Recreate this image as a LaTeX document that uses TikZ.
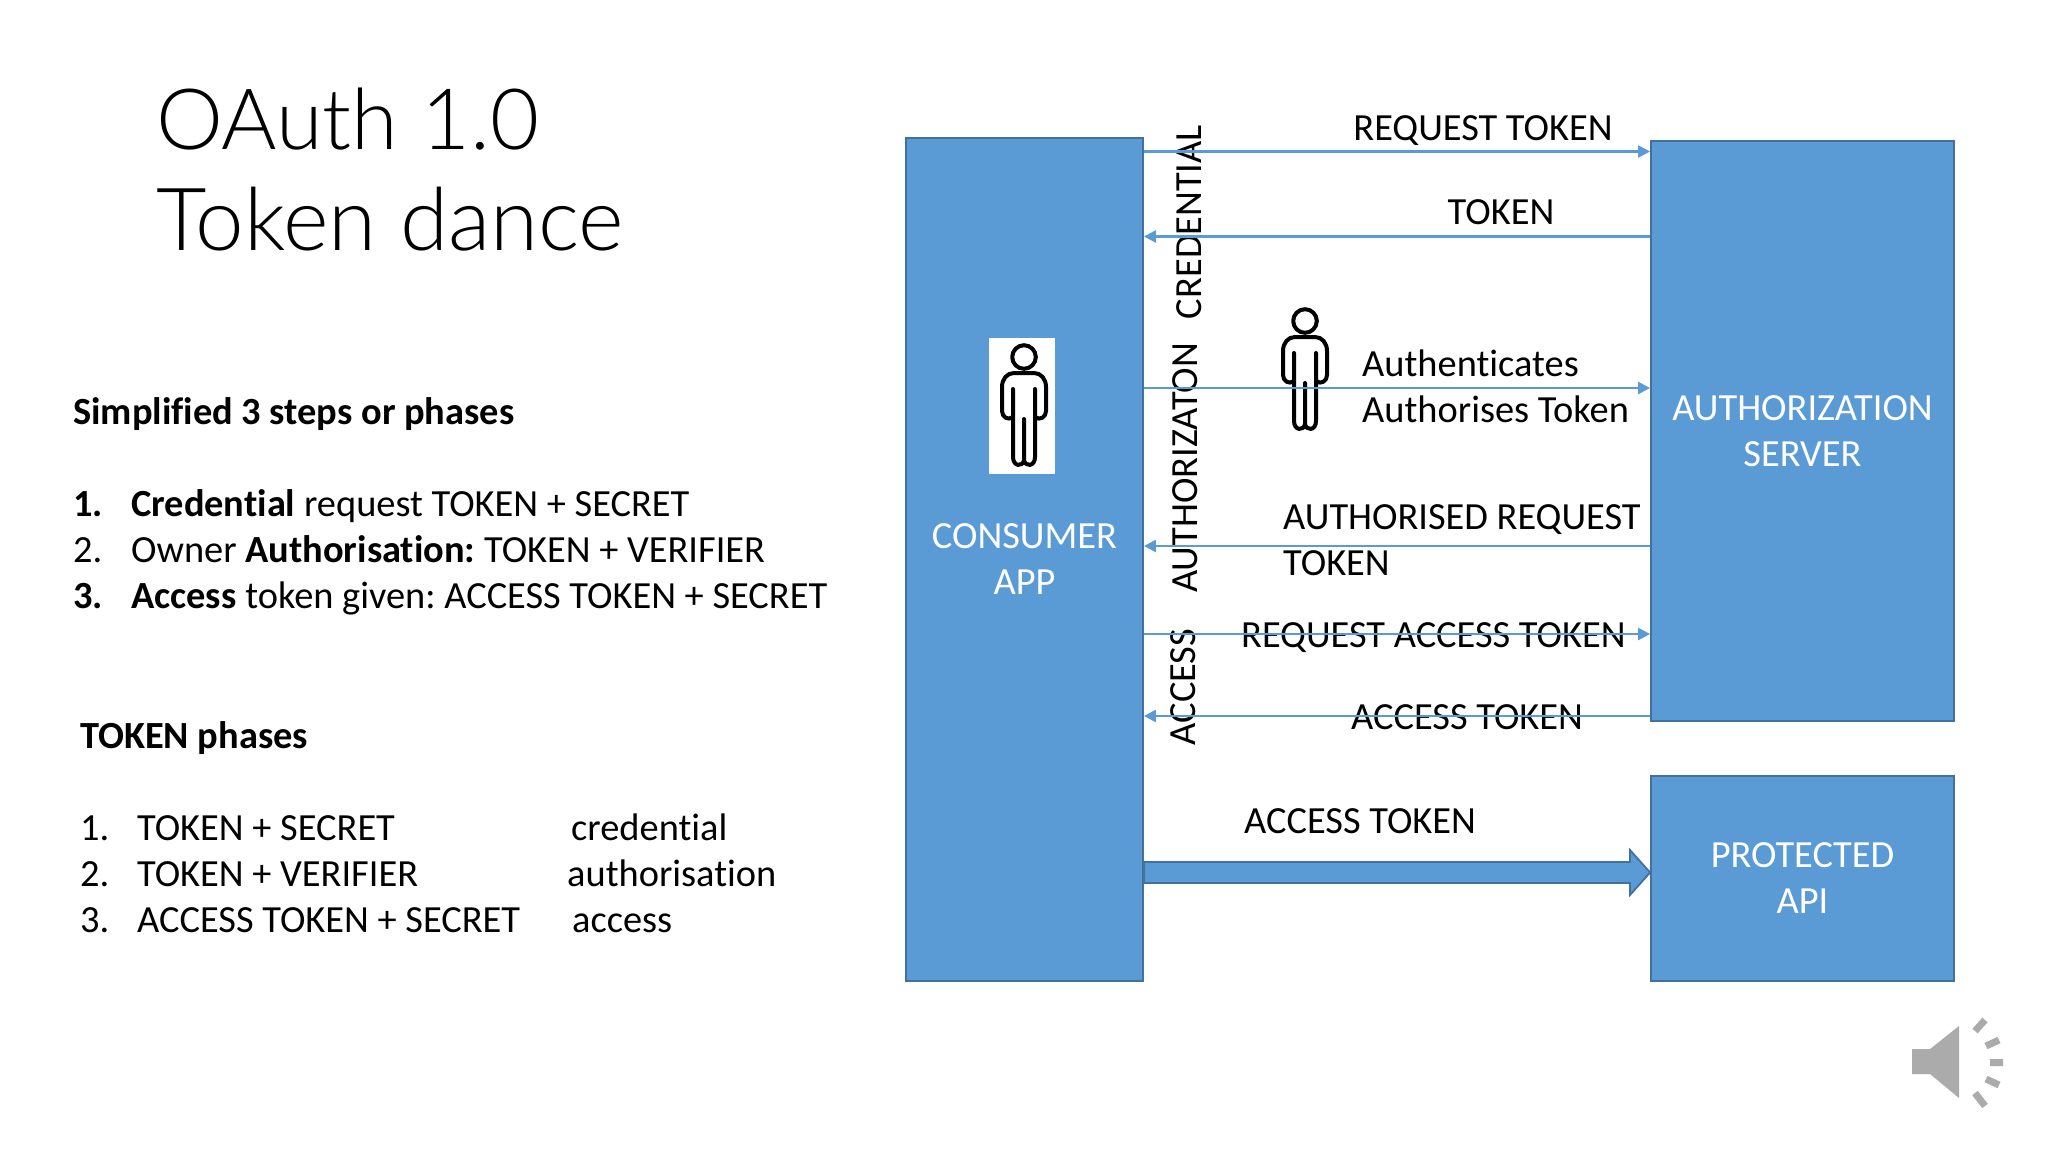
\documentclass[tikz,border=0pt]{standalone}
\usepackage{fontspec}
\setmainfont{Carlito}[Ligatures={NoCommon,NoContextual}]
\newfontfamily\lightfont{Lato Light}
\usepackage{tikz}
\usetikzlibrary{arrows.meta}
\definecolor{boxblue}{HTML}{5B9BD5}
\definecolor{boxedge}{HTML}{41719C}
\definecolor{icongrey}{HTML}{ABABAB}
\frenchspacing
\newcommand{\bodysize}{\fontsize{38.4pt}{46pt}\selectfont}
\tikzset{
  person/.pic={
    \draw[line width=4pt, line cap=round, line join=round]
      (0pt,0pt) circle (11.8pt)
      (-11pt,-32pt) -- (-11pt,-100pt) .. controls (-11pt,-110pt) and (-1pt,-110pt) .. (0pt,-103pt)
      .. controls (1pt,-110pt) and (11pt,-110pt) .. (11pt,-100pt) -- (11pt,-32pt)
      (0pt,-62pt) -- (0pt,-103pt)
      (-11pt,-60pt) .. controls (-16pt,-64pt) and (-22pt,-60pt) .. (-22pt,-54pt) -- (-22pt,-30pt)
      .. controls (-22pt,-22pt) and (-17pt,-16pt) .. (-10pt,-16pt) -- (10pt,-16pt)
      .. controls (17pt,-16pt) and (22pt,-22pt) .. (22pt,-30pt) -- (22pt,-54pt)
      .. controls (22pt,-60pt) and (16pt,-64pt) .. (11pt,-60pt);
  }
}
\begin{document}
\begin{tikzpicture}[
    txt/.style={anchor=base west, inner sep=0pt, font=\bodysize},
    mid/.style={anchor=base, inner sep=0pt, font=\bodysize},
    side/.style={anchor=base, inner sep=0pt, rotate=90, font=\bodysize},
    heading/.style={anchor=base west, inner sep=0pt},
    box/.style={draw=boxedge, line width=1.8pt, fill=boxblue, text=white, align=center, inner sep=0pt, font=\bodysize},
    flow/.style={color=boxblue, line width=2.4pt, -{Triangle[length=12pt,width=12pt]}},
    bigflow/.style={draw=boxedge, line width=1.8pt, fill=boxblue, line join=miter}]
  \useasboundingbox (0pt,0pt) rectangle (2048pt,-1152pt);

  \draw (156pt,-149pt)node[heading, font=\lightfont\fontsize{84.6pt}{102pt}\selectfont](title1){OAuth 1.0};
  \draw (156pt,-250pt)node[heading, font=\lightfont\fontsize{87.2pt}{102pt}\selectfont](title2){Token dance};

  \draw (73pt,-424pt)node[txt](steps){\textbf{Simplified 3 steps or phases}};
  \draw (73pt,-516pt)node[txt](n1){\textbf{1.}};
  \draw (131pt,-516pt)node[txt](s1){\textbf{Credential} request TOKEN + SECRET};
  \draw (73pt,-562pt)node[txt](n2){2.};
  \draw (131pt,-562pt)node[txt](s2){Owner \textbf{Authorisation:} TOKEN + VERIFIER};
  \draw (73pt,-608pt)node[txt](n3){\textbf{3.}};
  \draw (131pt,-608pt)node[txt](s3){\textbf{Access} token given: ACCESS TOKEN + SECRET};

  \draw (80pt,-748pt)node[txt](phases){\textbf{TOKEN phases}};
  \draw (80pt,-840pt)node[txt](m1){1.};
  \draw (137pt,-840pt)node[txt](p1){TOKEN + SECRET};
  \draw (571pt,-840pt)node[txt](q1){credential};
  \draw (80pt,-886pt)node[txt](m2){2.};
  \draw (137pt,-886pt)node[txt](p2){TOKEN + VERIFIER};
  \draw (567pt,-886pt)node[txt](q2){authorisation};
  \draw (80pt,-932pt)node[txt](m3){3.};
  \draw (137pt,-932pt)node[txt](p3){ACCESS TOKEN + SECRET};
  \draw (572pt,-932pt)node[txt](q3){access};

  \draw (1024.5pt,-559.5pt)node[box, minimum width=237pt, minimum height=843pt](consumer){CONSUMER\\APP};
  \draw (1802.5pt,-431pt)node[box, minimum width=303pt, minimum height=580pt](server){AUTHORIZATION\\SERVER};
  \draw (1802.5pt,-878.5pt)node[box, minimum width=303pt, minimum height=205pt](api){PROTECTED\\API};

  \draw (1022pt,-406pt)node[fill=white, minimum width=66pt, minimum height=136pt, inner sep=0pt](photo){};
  \draw (1024pt,-357pt)pic{person};
  \draw (1305pt,-321pt)pic{person};

  \draw (1201pt,-222pt)node[side](credential){CREDENTIAL};
  \draw (1197pt,-468pt)node[side](authorization){AUTHORIZATON};
  \draw (1195pt,-687pt)node[side](access){ACCESS};

  \draw (1483pt,-140pt)node[mid](l1){REQUEST TOKEN};
  \draw (1501pt,-224pt)node[mid](l2){TOKEN};
  \draw (1362pt,-376pt)node[txt](l3){Authenticates};
  \draw (1362pt,-422pt)node[txt](l4){Authorises Token};
  \draw (1283pt,-529pt)node[txt](l5){AUTHORISED REQUEST};
  \draw (1283pt,-575pt)node[txt](l6){TOKEN};
  \draw (1241pt,-647pt)node[txt](l7){REQUEST ACCESS TOKEN};
  \draw (1351pt,-729pt)node[txt](l8){ACCESS TOKEN};
  \draw (1244pt,-833pt)node[txt](l9){ACCESS TOKEN};

  \path[flow] (consumer.east |- 0pt,-151.5pt) edge (server.west |- 0pt,-151.5pt);
  \path[flow] (server.west |- 0pt,-236.5pt) edge (consumer.east |- 0pt,-236.5pt);
  \path[flow] (consumer.east |- 0pt,-388pt) edge (server.west |- 0pt,-388pt);
  \path[flow] (server.west |- 0pt,-546pt) edge (consumer.east |- 0pt,-546pt);
  \path[flow] (consumer.east |- 0pt,-634pt) edge (server.west |- 0pt,-634pt);
  \path[flow] (server.west |- 0pt,-716pt) edge (consumer.east |- 0pt,-716pt);
  \draw[bigflow] (consumer.east |- 0pt,-862pt) -- (1630pt,-862pt) -- (1630pt,-850pt) -- (api.west |- 0pt,-872.5pt)
    -- (1630pt,-895pt) -- (1630pt,-883pt) -- (consumer.east |- 0pt,-883pt) -- cycle;

  \fill[icongrey] (1912pt,-1049pt) -- (1930pt,-1049pt) -- (1959pt,-1026pt) -- (1959pt,-1098pt)
    -- (1930pt,-1074pt) -- (1912pt,-1074pt) -- cycle;
  \draw[icongrey, line width=7pt]
    (1975pt,-1031pt) -- (1985pt,-1020pt)
    (1986pt,-1046pt) -- (1999pt,-1040pt)
    (1990pt,-1062.5pt) -- (2003pt,-1062.5pt)
    (1986pt,-1079pt) -- (1999pt,-1085pt)
    (1975pt,-1093pt) -- (1985pt,-1106pt);
\end{tikzpicture}
\end{document}
